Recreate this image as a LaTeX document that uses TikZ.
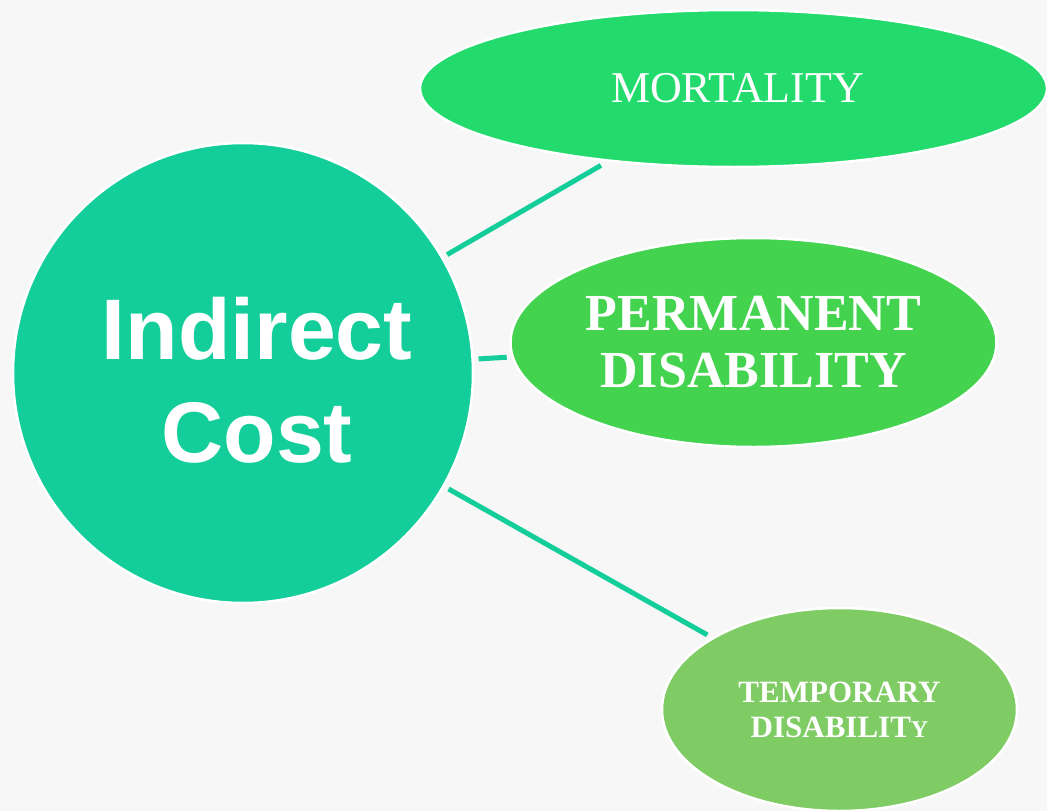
\documentclass[tikz,border=0pt]{standalone}
\usepackage{fontspec}
\setmainfont{Liberation Serif}
\newfontfamily\sansb{Liberation Sans}
\usetikzlibrary{shapes.geometric}
\definecolor{bgc}{HTML}{F7F7F7}
\definecolor{tealc}{HTML}{13CE9A}
\definecolor{mortc}{HTML}{23DB6D}
\definecolor{permc}{HTML}{43D34F}
\definecolor{tempc}{HTML}{7FCB64}
\tikzset{
  blob/.style={ellipse, draw=white, line width=2.5pt, inner sep=0pt, outer sep=6pt, text=white, align=center},
  conn/.style={draw=tealc, line width=5pt}
}
\begin{document}
\begin{tikzpicture}[x=1pt,y=-1pt]
\fill[bgc] (0,0) rectangle (1047,811);
\useasboundingbox (0,0) rectangle (1047,811);
\node[blob, circle, fill=tealc, minimum size=460pt,
      font=\sansb\bfseries\fontsize{86}{103}\selectfont] (ic) at (243,373)
  {\rule{0pt}{76pt}\hspace*{28pt}Indirect\\\hspace*{28pt}Cost};
\node[blob, fill=mortc, minimum width=627pt, minimum height=157pt,
      font=\fontsize{44}{50}\selectfont] (mort) at (733.5,88.5) {\hspace*{8pt}MORTALITY};
\node[blob, fill=permc, minimum width=486pt, minimum height=209pt,
      font=\bfseries\fontsize{52}{57}\selectfont] (perm) at (753.5,342.5) {PERMANENT\\DISABILITY};
\node[blob, fill=tempc, minimum width=355pt, minimum height=203pt,
      font=\bfseries\fontsize{31}{35}\selectfont] (temp) at (839.5,709.5) {TEMPORARY\\DISABILIT{\fontsize{24}{35}\selectfont Y}};
\draw[conn] (ic) -- (mort);
\draw[conn] (ic) -- (perm);
\draw[conn] (ic) -- (temp);
\end{tikzpicture}
\end{document}
